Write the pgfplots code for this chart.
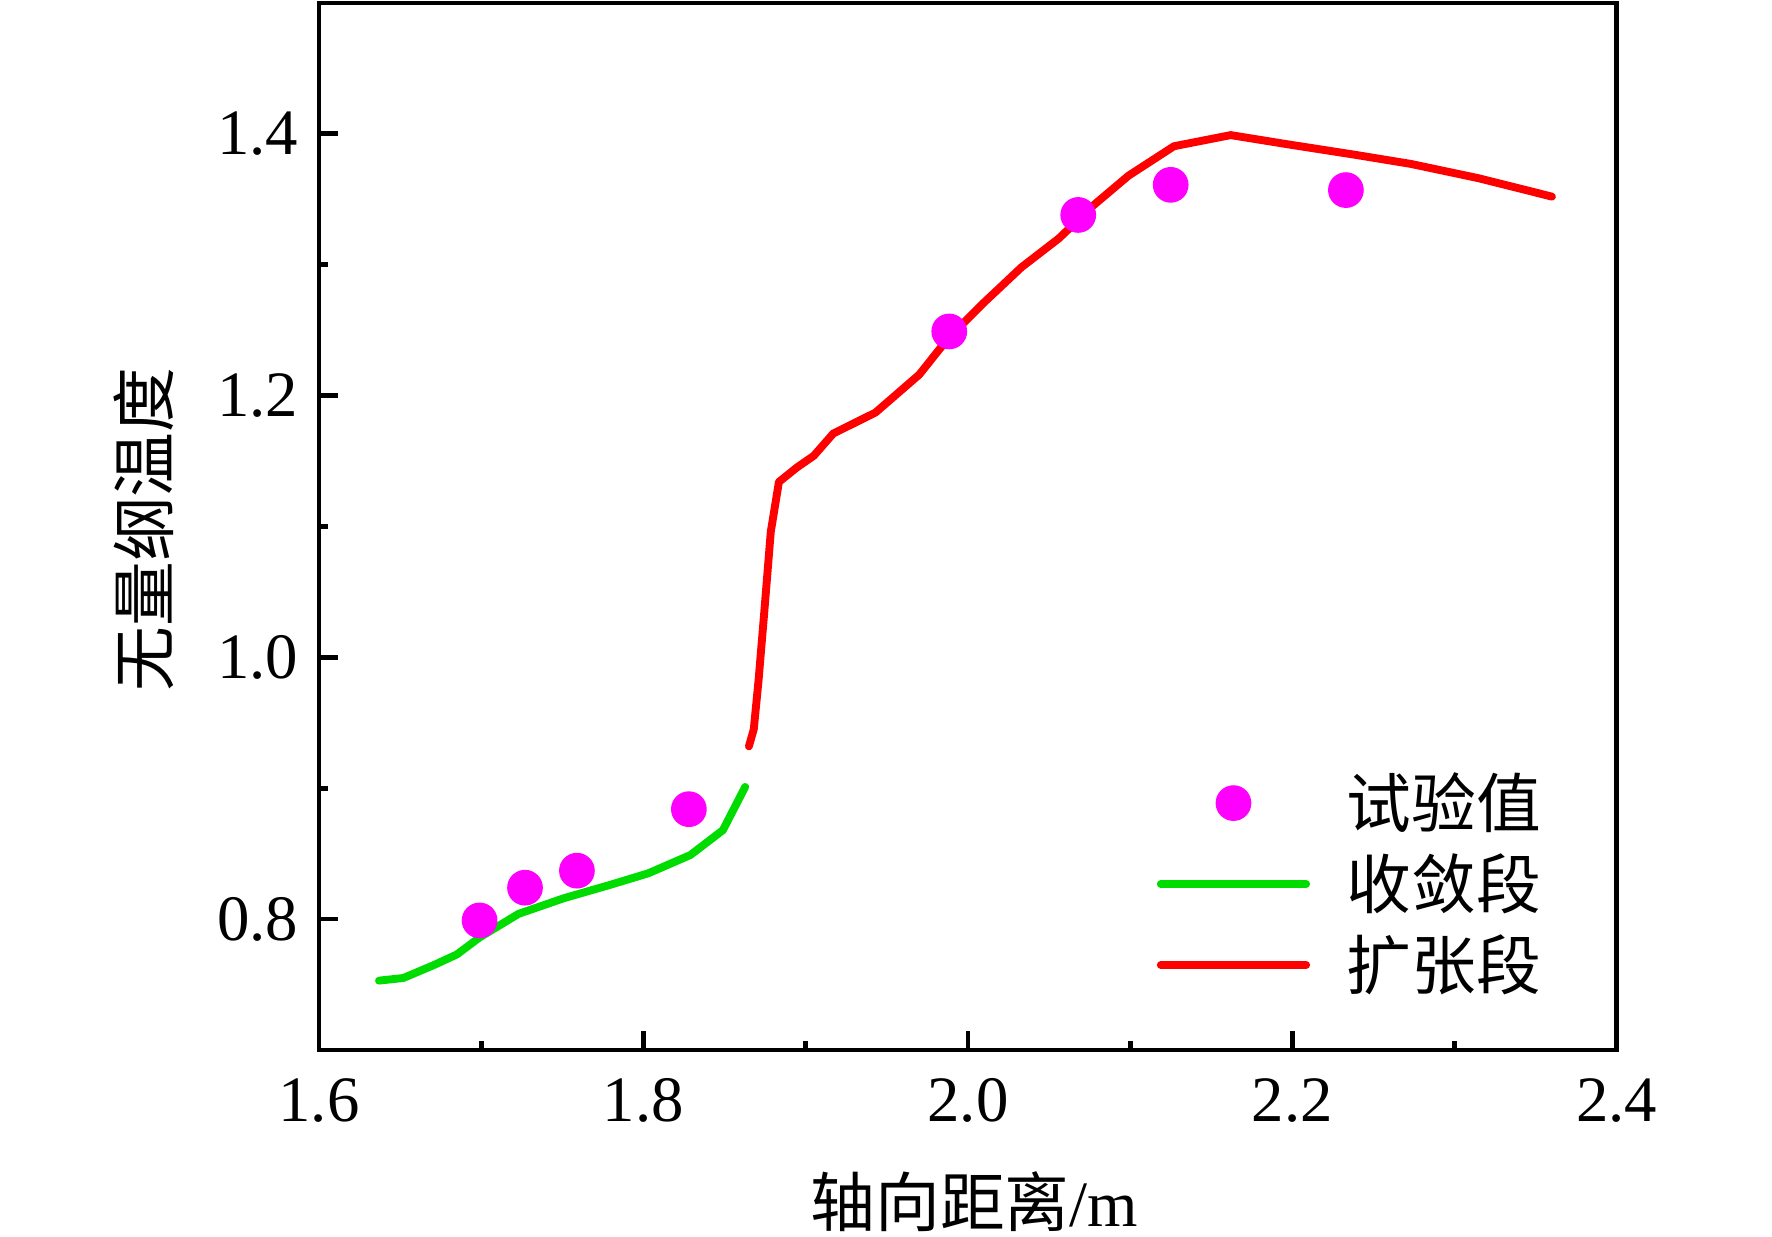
\documentclass[border=0pt]{standalone}
\usepackage{fontspec}
\setmainfont{Liberation Serif}
\newfontfamily\cjk{Noto Sans CJK SC}
\usepackage{pgfplots}
\pgfplotsset{compat=1.18}
\definecolor{mygreen}{RGB}{0,220,0}
\definecolor{mymag}{RGB}{255,0,255}
\definecolor{myred}{RGB}{255,0,0}
\newcommand{\fs}{\fontsize{15.6}{18}\selectfont}
\pgfplotsset{
  mylineleg/.style={legend image code/.code={\draw[##1] (0.95pt,0pt) -- (35.95pt,0pt);}},
  mymarkleg/.style={legend image code/.code={\draw[##1] plot coordinates {(18.45pt,0pt)};}},
}
\begin{document}
\begin{tikzpicture}
\begin{axis}[
  at={(76.83pt,45.04pt)}, anchor=south west,
  width=312.6pt, height=252.2pt, scale only axis,
  xmin=1.6, xmax=2.4, ymin=0.7, ymax=1.5,
  xtick={1.6,1.8,2.0,2.2,2.4}, ytick={0.8,1.0,1.2,1.4},
  minor x tick num=1, minor y tick num=1,
  xtick pos=left, ytick pos=left, tick align=inside,
  major tick length=4.6pt, minor tick length=2.2pt,
  axis line style={line width=1.15pt},
  every tick/.style={black,line width=1.15pt},
  every minor tick/.style={black,line width=1.15pt},
  /pgf/number format/assume math mode=true,
  xticklabel={\pgfmathprintnumber[fixed,fixed zerofill,precision=1]{\tick}},
  yticklabel={\pgfmathprintnumber[fixed,fixed zerofill,precision=1]{\tick}},
  every tick label/.append style={font=\fs},
  xticklabel style={yshift=-3.4pt},
  yticklabel style={xshift=-1.5pt},
  xlabel={{\cjk 轴向距离}/m},
  ylabel={\cjk 无量纲温度},
  xlabel style={font=\fs, at={(axis description cs:0.505,-0.1447)}, anchor=center},
  ylabel style={font=\fs, at={(axis description cs:-0.1352,0.497)}, anchor=center},
  legend cell align=left,
  legend style={draw=none, fill=none, font=\fs, inner sep=0pt, outer sep=0pt,
    nodes={inner sep=0pt}, column sep=8.8pt, row sep=4.8pt,
    at={(0.6456,0.1585)}, anchor=west},
]
\addplot[only marks, mark=*, mark size=4.1pt, color=mymag, mymarkleg]
  coordinates {(1.699,0.799)(1.727,0.824)(1.759,0.837)(1.828,0.884)(1.9885,1.249)(2.068,1.338)(2.125,1.361)(2.233,1.357)};
\addlegendentry{\cjk 试验值}
\addplot[mygreen, line width=1.9pt, line cap=round, line join=round, mark=none, mylineleg]
  coordinates {(1.637,0.753)(1.652,0.755)(1.671,0.765)(1.685,0.773)(1.699,0.786)(1.723,0.804)(1.751,0.816)(1.779,0.826)(1.803,0.835)(1.829,0.849)(1.849,0.868)(1.8627,0.901)};
\addlegendentry{\cjk 收敛段}
\addplot[myred, line width=1.9pt, line cap=round, line join=round, mark=none, mylineleg]
  coordinates {(1.8650,0.932)(1.868,0.945)(1.871,0.983)(1.8745,1.035)(1.8785,1.096)(1.8835,1.134)(1.8945,1.145)(1.905,1.154)(1.917,1.171)(1.943,1.187)(1.970,1.216)(1.988,1.244)(2.009,1.270)(2.033,1.298)(2.056,1.320)(2.078,1.346)(2.099,1.368)(2.127,1.3905)(2.162,1.399)(2.197,1.392)(2.2385,1.384)(2.273,1.377)(2.315,1.366)(2.360,1.352)};
\addlegendentry{\cjk 扩张段}
\end{axis}
\pgfresetboundingbox
\path (0pt,0pt) rectangle (426.8pt,297.94pt);
\end{tikzpicture}
\end{document}
